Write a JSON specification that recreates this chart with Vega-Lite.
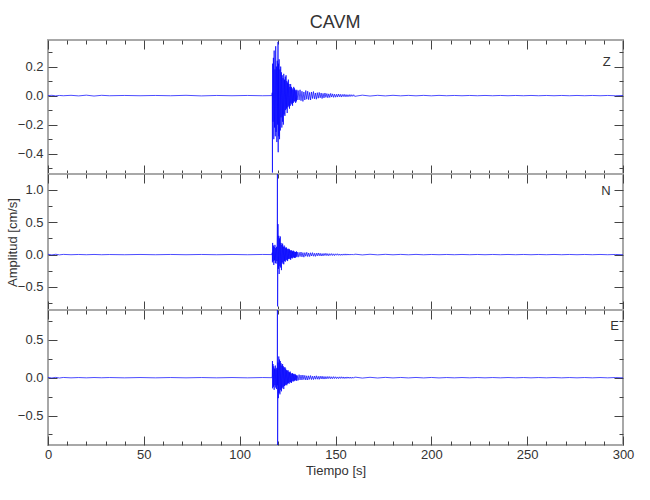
{
"$schema":"https://vega.github.io/schema/vega-lite/v6.json",
"padding":{"left":5,"top":14,"right":5,"bottom":5},
"title":{"text":"CAVM","fontSize":18,"offset":6,"anchor":"middle","dx":15},
"datasets":{"w":[
{"t":0,"Z":0,"N":0.005,"E":0.004},
{"t":2,"Z":0.002,"N":-0.005,"E":-0.004},
{"t":4,"Z":-0.002,"N":0.005,"E":0.004},
{"t":6,"Z":0.001,"N":-0.004,"E":-0.004},
{"t":8,"Z":-0.001,"N":0.003,"E":0.003},
{"t":12,"Z":0.002,"N":-0.002,"E":-0.002},
{"t":16,"Z":-0.002,"N":0.002,"E":0.002},
{"t":20,"Z":0.003,"N":-0.002,"E":-0.002},
{"t":24,"Z":-0.003,"N":0.002,"E":0.002},
{"t":28,"Z":0.002,"N":-0.002,"E":-0.001},
{"t":32,"Z":-0.001,"N":0.001,"E":0.002},
{"t":40,"Z":0.001,"N":-0.002,"E":-0.002},
{"t":48,"Z":-0.001,"N":0.002,"E":0.002},
{"t":56,"Z":0.001,"N":-0.002,"E":-0.002},
{"t":64,"Z":-0.001,"N":0.002,"E":0.002},
{"t":72,"Z":0.002,"N":-0.002,"E":-0.002},
{"t":80,"Z":-0.002,"N":0.002,"E":0.002},
{"t":88,"Z":0.001,"N":-0.002,"E":-0.002},
{"t":96,"Z":-0.001,"N":0.002,"E":0.002},
{"t":104,"Z":0.001,"N":-0.002,"E":-0.002},
{"t":112,"Z":-0.001,"N":0.002,"E":0.002},
{"t":116.8,"Z":0,"N":0,"E":0},
{"t":117.0,"Z":0.02,"N":0.03,"E":0.02},
{"t":117.1,"Z":-0.53,"N":-0.12,"E":0.22},
{"t":117.2,"Z":0.22,"N":0.18,"E":-0.14},
{"t":117.4,"Z":-0.18,"N":-0.10,"E":0.18},
{"t":117.6,"Z":0.26,"N":0.14,"E":-0.12},
{"t":117.8,"Z":-0.30,"N":-0.16,"E":0.15},
{"t":118.0,"Z":0.31,"N":0.12,"E":-0.16},
{"t":118.2,"Z":-0.22,"N":-0.09,"E":0.12},
{"t":118.4,"Z":0.18,"N":0.15,"E":-0.10},
{"t":118.6,"Z":-0.28,"N":-0.13,"E":0.16},
{"t":118.8,"Z":0.34,"N":0.10,"E":-0.13},
{"t":119.0,"Z":-0.25,"N":-0.14,"E":0.11},
{"t":119.2,"Z":0.20,"N":0.12,"E":-0.15},
{"t":119.4,"Z":-0.32,"N":-0.10,"E":0.13},
{"t":119.6,"Z":0.24,"N":0.30,"E":-0.10},
{"t":119.7,"Z":0.15,"N":1.30,"E":0.95},
{"t":119.8,"Z":-0.20,"N":-0.80,"E":-0.95},
{"t":120.0,"Z":0.37,"N":0.47,"E":0.20},
{"t":120.1,"Z":-0.39,"N":0.10,"E":0.10},
{"t":120.2,"Z":0.22,"N":-0.22,"E":-0.27},
{"t":120.4,"Z":-0.28,"N":0.29,"E":0.28},
{"t":120.6,"Z":0.25,"N":-0.30,"E":-0.20},
{"t":120.8,"Z":-0.30,"N":0.25,"E":0.24},
{"t":121.0,"Z":0.18,"N":-0.18,"E":-0.22},
{"t":121.2,"Z":-0.24,"N":0.28,"E":0.22},
{"t":121.4,"Z":0.20,"N":-0.20,"E":-0.16},
{"t":121.6,"Z":-0.15,"N":0.18,"E":0.19},
{"t":121.8,"Z":0.16,"N":-0.24,"E":-0.18},
{"t":122.0,"Z":-0.22,"N":0.15,"E":0.16},
{"t":122.2,"Z":0.14,"N":-0.12,"E":-0.14},
{"t":122.4,"Z":-0.18,"N":0.17,"E":0.18},
{"t":122.6,"Z":0.12,"N":-0.14,"E":-0.12},
{"t":122.8,"Z":-0.20,"N":0.12,"E":0.15},
{"t":123.0,"Z":0.15,"N":-0.15,"E":-0.15},
{"t":123.2,"Z":-0.13,"N":0.14,"E":0.13},
{"t":123.4,"Z":0.11,"N":-0.10,"E":-0.11},
{"t":123.6,"Z":-0.14,"N":0.12,"E":0.14},
{"t":123.8,"Z":0.13,"N":-0.11,"E":-0.10},
{"t":124.0,"Z":-0.10,"N":0.10,"E":0.12},
{"t":124.2,"Z":0.14,"N":-0.09,"E":-0.09},
{"t":124.4,"Z":-0.09,"N":0.11,"E":0.10},
{"t":124.6,"Z":0.10,"N":-0.08,"E":-0.10},
{"t":124.8,"Z":-0.12,"N":0.09,"E":0.09},
{"t":125.0,"Z":0.09,"N":-0.10,"E":-0.08},
{"t":125.2,"Z":-0.08,"N":0.08,"E":0.10},
{"t":125.4,"Z":0.11,"N":-0.07,"E":-0.07},
{"t":125.6,"Z":-0.07,"N":0.09,"E":0.08},
{"t":125.8,"Z":0.08,"N":-0.06,"E":-0.08},
{"t":126.0,"Z":-0.09,"N":0.08,"E":0.07},
{"t":126.2,"Z":0.06,"N":-0.07,"E":-0.06},
{"t":126.4,"Z":-0.07,"N":0.06,"E":0.08},
{"t":126.6,"Z":0.08,"N":-0.08,"E":-0.06},
{"t":126.8,"Z":-0.05,"N":0.07,"E":0.06},
{"t":127.0,"Z":0.06,"N":-0.05,"E":-0.07},
{"t":127.2,"Z":-0.06,"N":0.06,"E":0.05},
{"t":127.4,"Z":0.05,"N":-0.06,"E":-0.05},
{"t":127.6,"Z":-0.07,"N":0.05,"E":0.06},
{"t":127.8,"Z":0.04,"N":-0.05,"E":-0.04},
{"t":128.0,"Z":-0.05,"N":0.06,"E":0.05},
{"t":128.2,"Z":0.06,"N":-0.04,"E":-0.05},
{"t":128.4,"Z":-0.04,"N":0.05,"E":0.04},
{"t":128.6,"Z":0.05,"N":-0.05,"E":-0.04},
{"t":128.8,"Z":-0.04,"N":0.04,"E":0.05},
{"t":129.0,"Z":0.04,"N":-0.05,"E":-0.03},
{"t":129.2,"Z":-0.05,"N":0.04,"E":0.04},
{"t":129.4,"Z":0.03,"N":-0.04,"E":-0.04},
{"t":129.6,"Z":-0.04,"N":0.05,"E":0.03},
{"t":129.8,"Z":0.04,"N":-0.03,"E":-0.04},
{"t":130.0,"Z":-0.03,"N":0.04,"E":0.03},
{"t":130.5,"Z":0.035,"N":-0.04,"E":-0.035},
{"t":131,"Z":-0.03,"N":0.035,"E":0.04},
{"t":131.5,"Z":0.04,"N":-0.03,"E":-0.03},
{"t":132,"Z":-0.035,"N":0.04,"E":0.035},
{"t":132.5,"Z":0.03,"N":-0.035,"E":-0.03},
{"t":133,"Z":-0.04,"N":0.03,"E":0.035},
{"t":133.5,"Z":0.025,"N":-0.04,"E":-0.025},
{"t":134,"Z":-0.03,"N":0.03,"E":0.03},
{"t":134.5,"Z":0.035,"N":-0.025,"E":-0.03},
{"t":135,"Z":-0.025,"N":0.035,"E":0.025},
{"t":135.5,"Z":0.03,"N":-0.03,"E":-0.03},
{"t":136,"Z":-0.028,"N":0.025,"E":0.025},
{"t":136.5,"Z":0.022,"N":-0.03,"E":-0.022},
{"t":137,"Z":-0.03,"N":0.028,"E":0.028},
{"t":137.5,"Z":0.025,"N":-0.022,"E":-0.025},
{"t":138,"Z":-0.02,"N":0.03,"E":0.02},
{"t":138.5,"Z":0.028,"N":-0.025,"E":-0.025},
{"t":139,"Z":-0.022,"N":0.02,"E":0.022},
{"t":139.5,"Z":0.018,"N":-0.028,"E":-0.02},
{"t":140,"Z":-0.025,"N":0.022,"E":0.025},
{"t":140.5,"Z":0.02,"N":-0.02,"E":-0.02},
{"t":141,"Z":-0.018,"N":0.025,"E":0.018},
{"t":141.5,"Z":0.022,"N":-0.018,"E":-0.022},
{"t":142,"Z":-0.015,"N":0.02,"E":0.02},
{"t":142.5,"Z":0.018,"N":-0.022,"E":-0.016},
{"t":143,"Z":-0.02,"N":0.016,"E":0.02},
{"t":143.5,"Z":0.015,"N":-0.02,"E":-0.018},
{"t":144,"Z":-0.016,"N":0.018,"E":0.016},
{"t":144.5,"Z":0.018,"N":-0.015,"E":-0.018},
{"t":145,"Z":-0.012,"N":0.02,"E":0.015},
{"t":145.5,"Z":0.014,"N":-0.016,"E":-0.015},
{"t":146,"Z":-0.015,"N":0.015,"E":0.016},
{"t":146.5,"Z":0.012,"N":-0.018,"E":-0.012},
{"t":147,"Z":-0.013,"N":0.014,"E":0.015},
{"t":147.5,"Z":0.015,"N":-0.012,"E":-0.014},
{"t":148,"Z":-0.01,"N":0.015,"E":0.012},
{"t":148.5,"Z":0.012,"N":-0.014,"E":-0.013},
{"t":149,"Z":-0.012,"N":0.012,"E":0.014},
{"t":149.5,"Z":0.01,"N":-0.015,"E":-0.011},
{"t":150,"Z":-0.011,"N":0.012,"E":0.012},
{"t":150.5,"Z":0.009,"N":-0.01,"E":-0.012},
{"t":151,"Z":-0.01,"N":0.013,"E":0.01},
{"t":151.5,"Z":0.011,"N":-0.011,"E":-0.012},
{"t":152,"Z":-0.008,"N":0.01,"E":0.011},
{"t":152.5,"Z":0.009,"N":-0.012,"E":-0.01},
{"t":153,"Z":-0.01,"N":0.009,"E":0.012},
{"t":153.5,"Z":0.008,"N":-0.011,"E":-0.009},
{"t":154,"Z":-0.007,"N":0.01,"E":0.01},
{"t":154.5,"Z":0.009,"N":-0.009,"E":-0.011},
{"t":155,"Z":-0.008,"N":0.011,"E":0.009},
{"t":155.5,"Z":0.007,"N":-0.009,"E":-0.01},
{"t":156,"Z":-0.008,"N":0.01,"E":0.01},
{"t":156.5,"Z":0.006,"N":-0.008,"E":-0.008},
{"t":157,"Z":-0.007,"N":0.009,"E":0.009},
{"t":157.5,"Z":0.007,"N":-0.008,"E":-0.009},
{"t":158,"Z":-0.006,"N":0.009,"E":0.008},
{"t":158.5,"Z":0.006,"N":-0.007,"E":-0.009},
{"t":159,"Z":-0.005,"N":0.008,"E":0.008},
{"t":159.5,"Z":0.006,"N":-0.008,"E":-0.007},
{"t":160,"Z":-0.005,"N":0.007,"E":0.008},
{"t":164,"Z":0.003,"N":-0.005,"E":-0.005},
{"t":168,"Z":-0.003,"N":0.005,"E":0.005},
{"t":172,"Z":0.002,"N":-0.004,"E":-0.004},
{"t":176,"Z":-0.002,"N":0.004,"E":0.004},
{"t":180,"Z":0.002,"N":-0.003,"E":-0.003},
{"t":184,"Z":-0.0015,"N":0.003,"E":0.003},
{"t":188,"Z":0.0015,"N":-0.003,"E":-0.003},
{"t":192,"Z":-0.0015,"N":0.003,"E":0.003},
{"t":196,"Z":0.0015,"N":-0.003,"E":-0.003},
{"t":200,"Z":-0.0015,"N":0.002,"E":0.003},
{"t":204,"Z":0.0015,"N":-0.002,"E":-0.003},
{"t":208,"Z":-0.001,"N":0.002,"E":0.002},
{"t":212,"Z":0.001,"N":-0.002,"E":-0.002},
{"t":216,"Z":-0.001,"N":0.002,"E":0.002},
{"t":220,"Z":0.001,"N":-0.002,"E":-0.002},
{"t":224,"Z":-0.001,"N":0.002,"E":0.002},
{"t":228,"Z":0.001,"N":-0.002,"E":-0.002},
{"t":232,"Z":-0.001,"N":0.002,"E":0.002},
{"t":236,"Z":0.001,"N":-0.002,"E":-0.002},
{"t":240,"Z":-0.001,"N":0.002,"E":0.002},
{"t":244,"Z":0.001,"N":-0.002,"E":-0.002},
{"t":248,"Z":-0.001,"N":0.002,"E":0.002},
{"t":252,"Z":0.001,"N":-0.002,"E":-0.002},
{"t":256,"Z":-0.001,"N":0.002,"E":0.002},
{"t":260,"Z":0.001,"N":-0.002,"E":-0.002},
{"t":264,"Z":-0.001,"N":0.002,"E":0.002},
{"t":268,"Z":0.001,"N":-0.002,"E":-0.002},
{"t":272,"Z":-0.001,"N":0.002,"E":0.002},
{"t":276,"Z":0.001,"N":-0.002,"E":-0.002},
{"t":280,"Z":-0.001,"N":0.002,"E":0.002},
{"t":284,"Z":0.001,"N":-0.002,"E":-0.002},
{"t":288,"Z":-0.001,"N":0.002,"E":0.002},
{"t":292,"Z":0.001,"N":-0.002,"E":-0.002},
{"t":296,"Z":-0.001,"N":0.002,"E":0.002},
{"t":300,"Z":0.001,"N":-0.002,"E":-0.002}
]},
"vconcat":[
{
"width":575,"height":134,
"data":{"name":"w"},
"title":{"text":"Z","anchor":"end","offset":-30,"dx":-15,"fontSize":13},
"layer":[
{"mark":{"type":"line","color":"#0000ff","strokeWidth":0.7,"clip":true},
"encoding":{
"x":{"field":"t","type":"quantitative","scale":{"domain":[0,300],"nice":false,"zero":false},
"axis":{"orient":"bottom","values":[0,10,20,30,40,50,60,70,80,90,100,110,120,130,140,150,160,170,180,190,200,210,220,230,240,250,260,270,280,290,300],"labels":false,"title":null,"tickSize":{"condition":{"test":"datum.value % 50 === 0","value":-9},"value":-4}}},
"y":{"field":"Z","type":"quantitative","scale":{"domain":[-0.54,0.383],"nice":false,"zero":false},
"axis":{"orient":"left","values":[-0.5,-0.4,-0.3,-0.2,-0.1,0,0.1,0.2,0.3],"title":null,"labelPadding":14,"labelExpr":"abs(round(datum.value*10)) % 2 === 0 ? format(datum.value, '.1f') : ''","tickSize":{"condition":{"test":"abs(round(datum.value*10)) % 2 === 0","value":-9},"value":-4}}}
}},
{"mark":{"type":"point","opacity":0},
"encoding":{
"x":{"field":"t","type":"quantitative","axis":{"orient":"top","values":[0,10,20,30,40,50,60,70,80,90,100,110,120,130,140,150,160,170,180,190,200,210,220,230,240,250,260,270,280,290,300],"labels":false,"title":null,"tickSize":{"condition":{"test":"datum.value % 50 === 0","value":-9},"value":-4}}},
"y":{"field":"Z","type":"quantitative","axis":{"orient":"right","values":[-0.5,-0.4,-0.3,-0.2,-0.1,0,0.1,0.2,0.3],"labels":false,"title":null,"tickSize":{"condition":{"test":"abs(round(datum.value*10)) % 2 === 0","value":-9},"value":-4}}}
}}
],
"resolve":{"axis":{"x":"independent","y":"independent"}}
},
{
"width":575,"height":136,
"data":{"name":"w"},
"title":{"text":"N","anchor":"end","offset":-30,"dx":-15,"fontSize":13},
"layer":[
{"mark":{"type":"line","color":"#0000ff","strokeWidth":0.7,"clip":true},
"encoding":{
"x":{"field":"t","type":"quantitative","scale":{"domain":[0,300],"nice":false,"zero":false},
"axis":{"orient":"bottom","values":[0,10,20,30,40,50,60,70,80,90,100,110,120,130,140,150,160,170,180,190,200,210,220,230,240,250,260,270,280,290,300],"labels":false,"title":null,"tickSize":{"condition":{"test":"datum.value % 50 === 0","value":-9},"value":-4}}},
"y":{"field":"N","type":"quantitative","scale":{"domain":[-0.856,1.245],"nice":false,"zero":false},
"axis":{"orient":"left","values":[-0.75,-0.5,-0.25,0,0.25,0.5,0.75,1.0],"title":"Amplitud [cm/s]","titlePadding":-2,"labelPadding":14,"labelExpr":"abs(round(datum.value*4)) % 2 === 0 ? format(datum.value, '.1f') : ''","tickSize":{"condition":{"test":"abs(round(datum.value*4)) % 2 === 0","value":-9},"value":-4}}}
}},
{"mark":{"type":"point","opacity":0},
"encoding":{
"x":{"field":"t","type":"quantitative","axis":{"orient":"top","values":[0,10,20,30,40,50,60,70,80,90,100,110,120,130,140,150,160,170,180,190,200,210,220,230,240,250,260,270,280,290,300],"labels":false,"title":null,"tickSize":{"condition":{"test":"datum.value % 50 === 0","value":-9},"value":-4}}},
"y":{"field":"N","type":"quantitative","axis":{"orient":"right","values":[-0.75,-0.5,-0.25,0,0.25,0.5,0.75,1.0],"labels":false,"title":null,"tickSize":{"condition":{"test":"abs(round(datum.value*4)) % 2 === 0","value":-9},"value":-4}}}
}}
],
"resolve":{"axis":{"x":"independent","y":"independent"}}
},
{
"width":575,"height":135,
"data":{"name":"w"},
"title":{"text":"E","anchor":"end","offset":-30,"dx":-15,"fontSize":13},
"layer":[
{"mark":{"type":"line","color":"#0000ff","strokeWidth":0.7,"clip":true},
"encoding":{
"x":{"field":"t","type":"quantitative","scale":{"domain":[0,300],"nice":false,"zero":false},
"axis":{"orient":"bottom","values":[0,10,20,30,40,50,60,70,80,90,100,110,120,130,140,150,160,170,180,190,200,210,220,230,240,250,260,270,280,290,300],"title":"Tiempo [s]","titlePadding":-2,"labelPadding":12,"labelExpr":"datum.value % 50 === 0 ? datum.label : ''","tickSize":{"condition":{"test":"datum.value % 50 === 0","value":-9},"value":-4}}},
"y":{"field":"E","type":"quantitative","scale":{"domain":[-0.889,0.894],"nice":false,"zero":false},
"axis":{"orient":"left","values":[-0.75,-0.5,-0.25,0,0.25,0.5,0.75],"title":null,"labelPadding":14,"labelExpr":"abs(round(datum.value*4)) % 2 === 0 ? format(datum.value, '.1f') : ''","tickSize":{"condition":{"test":"abs(round(datum.value*4)) % 2 === 0","value":-9},"value":-4}}}
}},
{"mark":{"type":"point","opacity":0},
"encoding":{
"x":{"field":"t","type":"quantitative","axis":{"orient":"top","values":[0,10,20,30,40,50,60,70,80,90,100,110,120,130,140,150,160,170,180,190,200,210,220,230,240,250,260,270,280,290,300],"labels":false,"title":null,"tickSize":{"condition":{"test":"datum.value % 50 === 0","value":-9},"value":-4}}},
"y":{"field":"E","type":"quantitative","axis":{"orient":"right","values":[-0.75,-0.5,-0.25,0,0.25,0.5,0.75],"labels":false,"title":null,"tickSize":{"condition":{"test":"abs(round(datum.value*4)) % 2 === 0","value":-9},"value":-4}}}
}}
],
"resolve":{"axis":{"x":"independent","y":"independent"}}
}
],
"spacing":0,
"bounds":"flush",
"config":{
"view":{"stroke":"#a8a8a8","strokeWidth":2},
"font":"Liberation Sans",
"axis":{"domain":false,"grid":false,"labelFont":"Liberation Sans","labelFontSize":13,"labelColor":"#333333","tickColor":"#444444","tickWidth":1,"labelPadding":3,"labelOverlap":false,"labelFlush":false,"titleFont":"Liberation Sans","titleFontSize":13,"titleFontWeight":"normal","titleColor":"#333333"},
"title":{"font":"Liberation Sans","fontWeight":"normal","color":"#333333"}
}
}
